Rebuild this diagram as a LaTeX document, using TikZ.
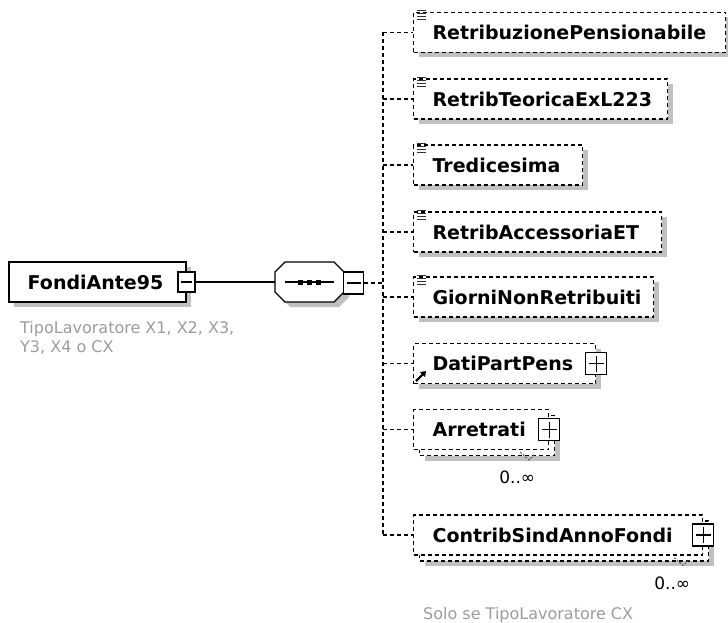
\documentclass[tikz,border=0pt]{standalone}
\usepackage{fontspec}
\setmainfont{DejaVu Sans}
\usetikzlibrary{shadows,arrows.meta}
\definecolor{shadowgray}{HTML}{C0C0C0}
\definecolor{notegray}{HTML}{9C9C9C}
\tikzset{
  shadowed/.style={drop shadow={shadow xshift=5pt,shadow yshift=-5pt,fill=shadowgray,opacity=1}},
  dashline/.style={dash pattern=on 4pt off 3pt,line width=1.2pt},
  elem/.style={draw,dashline,fill=white,text width=#1,inner xsep=0pt,inner ysep=0pt,
    minimum height=40pt,align=left,anchor=west,
    font=\bfseries\fontsize{19}{22}\selectfont,
    execute at begin node={\noindent\hspace*{19pt}}},
  rootelem/.style={elem=#1,solid,line width=1.5pt},
  expminus/.style={draw,solid,line width=1.2pt,fill=white,minimum width=17pt,minimum height=20pt,inner sep=0pt,
    path picture={\draw[line width=1.2pt] ([xshift=3pt]path picture bounding box.west) -- ([xshift=-3pt]path picture bounding box.east);}},
  expplus/.style={draw,solid,line width=1.2pt,fill=white,minimum width=21pt,minimum height=22pt,inner sep=0pt,
    path picture={\draw[line width=1.2pt] ([xshift=3pt]path picture bounding box.west) -- ([xshift=-3pt]path picture bounding box.east);
      \draw[line width=1.2pt] ([yshift=-3pt]path picture bounding box.north) -- ([yshift=3pt]path picture bounding box.south);}},
  note/.style={text=notegray,font=\fontsize{16}{19}\selectfont,inner sep=0pt,align=left},
  mult/.style={font=\fontsize{17}{20}\selectfont,inner sep=0pt},
  chev/.style={line width=0.9pt,black!70,dash pattern=on 2pt off 1.5pt},
}
\begin{document}
\begin{tikzpicture}[x=1pt,y=-1pt]
\useasboundingbox (0,0) rectangle (728,623);
% root element
\node[rootelem=177,shadowed] (root) at (8,282) {FondiAnte95};
\node[expminus] (rootminus) at (root.east) {};
\node[note,anchor=north west] (rootnote) at (20,321) {TipoLavoratore X1, X2, X3,\\Y3, X4 o CX};
% sequence compositor
\fill[shadowgray,shift={(5,5)}] (285,262) -- (334,262) -- (344,272) -- (344,292) -- (334,302) -- (285,302) -- (275,292) -- (275,272) -- cycle;
\filldraw[fill=white,line width=1.2pt] (285,262) -- (334,262) -- (344,272) -- (344,292) -- (334,302) -- (285,302) -- (275,292) -- (275,272) -- cycle;
\node[minimum width=69pt,minimum height=40pt,inner sep=0pt] (seq) at (309.5,282) {};
\draw[line width=1.2pt] (285,282) -- (334,282);
\foreach \x in {300,309,318}
  \fill (\x-2.5,279.5) rectangle (\x+2.5,284.5);
\node[expminus,minimum width=20pt,minimum height=22pt] (seqminus) at (353.5,283) {};
\draw[line width=1.2pt] (rootminus.east) -- (seq.west);
\coordinate (bus) at (383,283);
% children
\node[elem=312,shadowed] (retribpens) at (413,32.5) {RetribuzionePensionabile};
\node[elem=254,shadowed] (retribteor) at (413,99) {RetribTeoricaExL223};
\node[elem=169,shadowed] (tredicesima) at (413,165) {Tredicesima};
\node[elem=248,shadowed] (retribacc) at (413,232) {RetribAccessoriaET};
\node[elem=240,shadowed] (giorni) at (413,297) {GiorniNonRetribuiti};
\node[elem=182,shadowed] (datipart) at (413,363.5) {DatiPartPens};
\node[expplus] (datipartplus) at (datipart.east) {};
\node[elem=135,shadowed] (arretratiback) at (419,435.5) {};
\node[elem=135] (arretrati) at (413,429.5) {Arretrati};
\node[expplus] (arretratiplus) at (arretrati.east) {};
\node[elem=289,shadowed] (contribback) at (419,541) {};
\node[elem=289] (contrib) at (413,535) {ContribSindAnnoFondi};
\node[expplus] (contribplus) at (contrib.east) {};
% occurrences
\draw[chev] ([xshift=-35pt,yshift=4pt]arretratiback.south east) -- ++(9,8) -- ++(6,-6);
\draw[chev] ([xshift=-35pt,yshift=4pt]contribback.south east) -- ++(9,8) -- ++(6,-6);
\node[mult] (arretratimult) at ([shift={(-38,21)}]arretratiback.south east) {0..∞};
\node[mult] (contribmult) at ([shift={(-37,22)}]contribback.south east) {0..∞};
\node[note,anchor=base west] (contribnote) at (423,619) {Solo se TipoLavoratore CX};
% icons
\foreach \n in {retribpens,retribteor,tredicesima,retribacc,giorni}
  \foreach \k in {0,1,2,3}
    \draw[line width=1pt,black!80] ([xshift=4pt,yshift=(1-3*\k)*1pt]\n.north west) -- ++(9,0);
\draw[line width=2pt,-{Triangle[length=5pt,width=7pt]}] ([xshift=3pt,yshift=3pt]datipart.south west) -- ++(10,-10);
% connectors
\draw[dashline] (seqminus.east) -- (bus);
\draw[dashline] (bus |- retribpens.west) -- (bus |- contrib.west);
\foreach \n in {retribpens,retribteor,tredicesima,retribacc,giorni,datipart,arretrati,contrib}
  \draw[dashline] (bus |- \n.west) -- (\n.west);
\end{tikzpicture}
\end{document}
